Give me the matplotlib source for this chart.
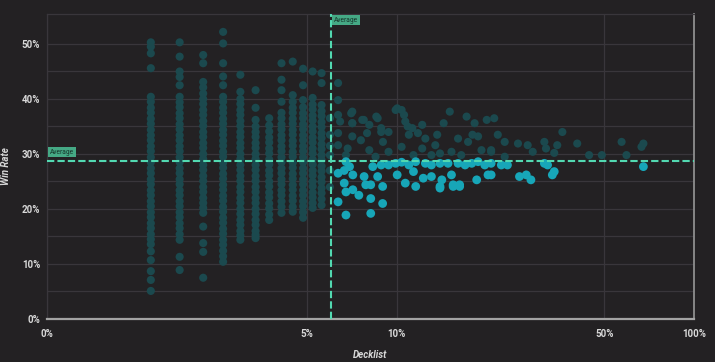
import numpy as np
import matplotlib.pyplot as plt
from matplotlib.ticker import FixedLocator, NullLocator

plt.rcParams['font.family'] = ['Roboto', 'DejaVu Sans']

BG = '#232123'
GRID = '#39363b'
TEXT = '#d8d8d8'
DIM = '#1b494e'
BRIGHT = '#17a6b8'
AVG = '#52d9b1'

n_decks = 268
avg_pct = 6.0        # average decklist share (%)
avg_rate = 28.7      # average win rate (%)

# left side: decks played by only a few lists -> discrete columns
col_counts = [4, 5, 6, 7, 8, 9, 10, 11, 12, 13, 14, 15, 16]
col_rates = [
    [50.3, 49.5, 48.3, 45.6, 40.4, 39.5, 38.4, 37.5, 36.4, 35.5, 34.4, 33.4, 32.5, 31.4, 30.5,
     29.4, 28.5, 27.4, 26.5, 25.4, 24.5, 23.4, 22.5, 21.4, 20.5, 19.4, 18.5, 17.4, 16.5, 15.4,
     14.5, 13.6, 12.3, 10.7, 8.7, 7.1, 5.1],
    [50.3, 47.7, 45.0, 44.0, 42.5, 40.4, 39.4, 38.5, 37.4, 36.5, 35.4, 34.5, 33.4, 32.5, 31.4,
     30.5, 29.4, 28.5, 27.4, 26.5, 25.4, 24.5, 23.4, 22.5, 21.4, 20.5, 19.4, 18.5, 17.4, 16.5,
     15.4, 14.4, 11.3, 8.9],
    [48.0, 46.5, 43.1, 42.1, 41.0, 40.0, 39.1, 38.0, 37.1, 36.0, 35.1, 34.0, 33.1, 32.0, 31.1,
     30.0, 29.1, 28.0, 27.1, 26.0, 25.1, 24.0, 23.1, 22.0, 21.1, 20.2, 19.3, 16.8, 13.8, 12.2, 7.5],
    [52.2, 50.1, 46.5, 44.1, 42.5, 40.4, 39.5, 38.4, 37.5, 36.4, 35.5, 34.4, 33.5, 32.4, 31.5,
     30.4, 29.5, 28.4, 27.5, 26.4, 25.5, 24.4, 23.5, 22.4, 21.5, 20.4, 19.5, 18.4, 17.5, 16.4,
     15.5, 14.4, 13.5, 12.4, 11.4, 10.4],
    [44.4, 41.3, 40.0, 39.1, 38.0, 37.1, 36.0, 35.1, 34.0, 33.1, 32.0, 31.1, 30.0, 29.1, 28.0,
     27.1, 26.0, 25.1, 24.0, 23.1, 22.0, 21.1, 20.0, 19.1, 18.0, 17.1, 16.0, 15.2, 14.4],
    [41.6, 38.4, 36.2, 35.0, 34.0, 33.1, 32.0, 31.1, 30.0, 29.1, 28.0, 27.1, 26.0, 25.1, 24.0,
     23.1, 22.0, 21.1, 20.0, 19.1, 18.0, 17.1, 16.0, 15.3, 14.7],
    [36.5, 35.2, 34.1, 33.0, 32.1, 31.0, 30.1, 29.0, 28.1, 27.0, 26.1, 25.0, 24.1, 23.0, 22.1,
     21.0, 20.1, 19.0, 18.0],
    [46.5, 43.5, 41.6, 39.5, 37.5, 36.5, 35.4, 34.5, 33.4, 32.5, 31.4, 30.5, 29.4, 28.5, 27.4,
     26.5, 25.4, 24.5, 23.4, 22.5, 21.4, 20.4, 19.3],
    [46.8, 40.7, 39.5, 38.4, 37.5, 36.4, 35.5, 34.4, 33.5, 32.4, 31.5, 30.4, 29.5, 28.4, 27.5,
     26.4, 25.5, 24.4, 23.5, 22.4, 21.5, 20.4, 19.5],
    [45.5, 42.5, 39.8, 38.5, 37.4, 36.5, 35.4, 34.5, 33.4, 32.5, 31.4, 30.5, 29.4, 28.5, 27.4,
     26.5, 25.4, 24.5, 23.4, 22.5, 21.4, 20.5, 19.4, 18.4],
    [45.0, 40.2, 39.0, 38.1, 37.0, 36.1, 35.0, 34.1, 33.0, 32.1, 31.0, 30.1, 29.0, 28.1, 27.0,
     26.1, 25.0, 24.1, 23.0, 22.1, 21.1, 20.2],
    [44.7, 42.9, 38.9, 37.8, 36.9, 35.8, 34.9, 33.8, 32.9, 31.8, 30.9, 29.8, 28.9, 27.8, 26.9,
     25.8, 24.9, 23.8, 22.9, 21.8, 20.7],
    [36.5, 33.5, 31.5, 29.8, 27.0, 24.0],
]

# right side: decks with many lists (share %, win rate %)
cloud_pct = [6.36, 6.36, 6.36, 7.1, 7.1, 7.76, 8.55, 7.96, 8.88, 10.05, 10.6, 10.9, 12.2, 13.7,
             15.1, 17.2, 18.0, 6.46, 6.36, 6.36, 7.04, 7.1, 7.1, 6.85, 7.67, 8.1, 7.59, 8.1, 8.64,
             8.88, 9.0, 9.4, 9.4, 9.93, 10.4, 10.7, 11.0, 11.3, 10.4, 11.8, 12.5, 12.2, 13.5,
             14.4, 16.1, 15.3, 17.4, 18.3, 20.1, 21.3, 21.9, 23.1, 19.3, 18.8, 20.8, 25.6, 27.6,
             28.7, 31.4, 31.8, 34.7, 36.1, 33.9, 40.5, 44.4, 49.0, 57.1, 59.3, 66.6, 67.6, 6.76,
             8.5, 11.4, 13.1, 14.0, 16.5, 20.8, 23.1,
             6.36, 6.76, 6.95, 7.13, 6.67, 6.76, 7.13, 6.36, 6.76, 7.47, 7.78, 7.88, 8.19, 8.19,
             8.19, 8.64, 8.98, 8.32, 8.88, 9.4, 9.93, 10.4, 10.05, 10.7, 11.6, 11.0, 11.4, 11.6,
             12.5, 13.1, 12.3, 13.1, 14.2, 14.0, 14.0, 14.9, 15.3, 15.5, 16.3, 16.1, 17.0, 17.9,
             18.6, 18.8, 19.8, 20.3, 20.8, 20.8, 22.5, 23.6, 25.9, 27.3, 28.3, 31.4, 32.2, 33.9,
             33.4, 67.6, 6.67, 8.98, 14.0, 15.5, 16.3]
cloud_rate = [42.9, 39.8, 37.1, 37.7, 35.6, 36.2, 36.8, 33.8, 34.0, 38.3, 37.1, 35.0, 35.3, 33.5,
              37.7, 36.8, 33.5, 35.9, 33.8, 31.6, 37.4, 35.6, 33.2, 31.0, 36.2, 35.3, 32.5, 30.7,
              36.5, 34.7, 32.2, 34.0, 30.4, 38.0, 38.0, 35.9, 33.5, 34.7, 31.3, 33.8, 32.8, 31.0,
              31.6, 35.6, 32.8, 30.4, 32.2, 35.6, 36.2, 36.5, 33.5, 32.2, 30.7, 33.2, 30.7, 31.9,
              31.6, 30.4, 32.2, 31.0, 31.6, 34.0, 30.2, 31.9, 29.8, 29.8, 32.2, 29.8, 31.3, 31.9,
              29.8, 29.5, 29.8, 29.8, 30.1, 29.8, 30.4, 29.5,
              26.5, 28.6, 27.7, 26.2, 24.7, 23.1, 23.5, 21.3, 18.9, 22.5, 25.9, 24.4, 24.4, 21.9,
              19.2, 25.9, 21.0, 27.7, 28.0, 28.0, 28.3, 28.5, 26.2, 24.7, 24.1, 28.0, 26.8, 28.6,
              28.3, 28.0, 25.6, 25.9, 25.3, 23.8, 28.3, 28.3, 26.2, 24.1, 24.1, 28.3, 28.0, 28.3,
              25.3, 28.6, 28.0, 26.2, 26.2, 28.3, 28.0, 28.0, 25.9, 26.2, 25.3, 28.3, 28.0, 26.8,
              26.2, 27.7, 27.0, 24.1, 24.1, 24.4, 24.4]

x_ticks = [0.668, 5, 10, 50, 100]
x_labels = ['0%', '5%', '10%', '50%', '100%']
y_ticks = [0, 10, 20, 30, 40, 50]

# collect everything
xs, ys = [], []
for k, rates in zip(col_counts, col_rates):
    xs += [k / n_decks * 100] * len(rates)
    ys += rates
xs += cloud_pct
ys += cloud_rate
xs = np.array(xs)
ys = np.array(ys)
hot = (xs > avg_pct) & (ys < avg_rate)

fig = plt.figure(figsize=(7.15, 3.62), dpi=100, facecolor=BG)
ax = fig.add_axes([0.0657, 0.1188, 0.9049, 0.8425], facecolor=BG)

ax.scatter(xs[~hot], ys[~hot], s=34, color=DIM, edgecolors='none', zorder=2)
ax.scatter(xs[hot], ys[hot], s=40, color=BRIGHT, edgecolors='none', zorder=3)

ax.axvline(avg_pct, color=AVG, lw=1.5, ls=(0, (3.5, 1.5)), zorder=4)
ax.axhline(avg_rate, color=AVG, lw=1.5, ls=(0, (3.5, 1.5)), zorder=4)

box = dict(boxstyle='square,pad=0.25', fc='#45a985', ec='none')
ax.annotate('Average', xy=(avg_pct, 1), xycoords=('data', 'axes fraction'),
            xytext=(2.5, -2), textcoords='offset points', ha='left', va='top',
            fontsize=4.8, color='#17352b', bbox=box, zorder=5)
ax.annotate('Average', xy=(0, avg_rate), xycoords=('axes fraction', 'data'),
            xytext=(2, 4), textcoords='offset points', ha='left', va='bottom',
            fontsize=4.8, color='#17352b', bbox=box, zorder=5)

ax.set_xscale('log')
ax.set_xlim(0.668, 100)
ax.set_ylim(0, 55.45)
ax.xaxis.set_major_locator(FixedLocator(x_ticks))
ax.xaxis.set_minor_locator(NullLocator())
ax.set_xticklabels(x_labels)
ax.set_yticks(y_ticks)
ax.set_yticklabels([f'{v}%' for v in y_ticks])
ax.set_yticks([5, 15, 25, 35, 45], minor=True)

ax.grid(True, which='both', color=GRID, lw=0.9, zorder=0)
ax.set_axisbelow(True)
ax.tick_params(which='both', length=0, colors=TEXT, labelsize=7)
ax.tick_params(axis='x', pad=7)
ax.tick_params(axis='y', pad=5)
for lab in ax.get_xticklabels() + ax.get_yticklabels():
    lab.set_fontweight('bold')

for side in ['top', 'left']:
    ax.spines[side].set_color(GRID)
    ax.spines[side].set_linewidth(0.9)
ax.spines['bottom'].set_color('#a3a3a3')
ax.spines['bottom'].set_linewidth(1.6)
ax.spines['right'].set_color('#8e8e8e')
ax.spines['right'].set_linewidth(1.3)

ax.set_xlabel('Decklist', color=TEXT, fontsize=7, fontweight='bold', style='italic', labelpad=8)
ax.set_ylabel('Win Rate', color=TEXT, fontsize=7, fontweight='bold', style='italic', labelpad=8)

fig.savefig('out.png', dpi=100, facecolor=BG)
